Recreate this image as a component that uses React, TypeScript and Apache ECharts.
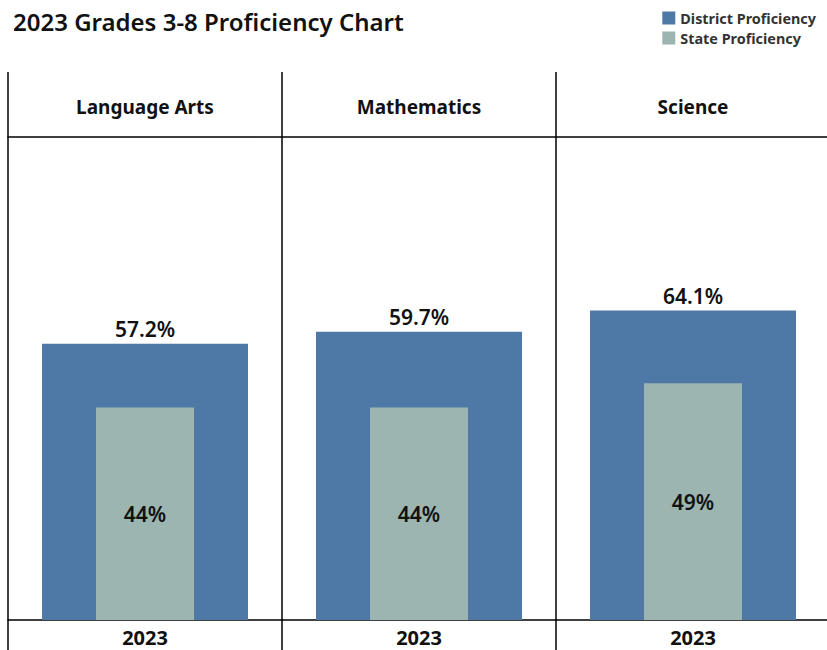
import React, { useEffect, useRef } from "react";
import * as echarts from "echarts";

const subjects = ["Language Arts", "Mathematics", "Science"];
const years = ["2023", "2023", "2023"];
const districtValues = [57.2, 59.7, 64.1];
const stateValues = [44, 44, 49];

export default function App() {
  const ref = useRef<HTMLDivElement>(null);
  useEffect(() => {
    if (!ref.current) return;
    const chart = echarts.init(ref.current, undefined, { renderer: "svg" });
    const lineStyle = { color: "#000", width: 1.5 };
    const labelFont = { fontFamily: "Noto Sans", fontWeight: 600, fontSize: 21, color: "#111" };
    chart.setOption({
      animation: false,
      backgroundColor: "#fff",
      title: {
        text: "2023 Grades 3-8 Proficiency Chart",
        left: 8,
        top: 4,
        textStyle: { fontFamily: "Noto Sans", fontWeight: 600, fontSize: 24, color: "#111" },
      },
      legend: {
        orient: "vertical",
        right: 10,
        top: 6,
        icon: "rect",
        itemWidth: 13,
        itemHeight: 13,
        itemGap: 6,
        textStyle: { fontFamily: "Noto Sans", fontWeight: "bold", fontSize: 14.4, color: "#333" },
        data: ["District Proficiency", "State Proficiency"],
      },
      grid: { left: 8, right: 1, top: 137, bottom: 30, containLabel: false },
      xAxis: [
        {
          type: "category",
          data: subjects,
          position: "bottom",
          axisLine: { show: true, lineStyle },
          axisTick: { show: true, length: 30, lineStyle },
          splitLine: { show: true, lineStyle },
          axisLabel: {
            margin: 7,
            formatter: (_v: string, i: number) => years[i],
            fontFamily: "Noto Sans",
            fontWeight: "bold",
            fontSize: 20,
            color: "#111",
          },
        },
        {
          type: "category",
          data: subjects,
          position: "top",
          axisLine: { show: true, lineStyle },
          axisTick: { show: true, length: 65, lineStyle },
          splitLine: { show: false },
          axisLabel: {
            margin: 21,
            fontFamily: "Noto Sans",
            fontWeight: "bold",
            fontSize: 19,
            color: "#111",
          },
        },
      ],
      yAxis: { type: "value", min: 0, max: 100, show: false },
      series: [
        {
          name: "District Proficiency",
          type: "bar",
          xAxisIndex: 0,
          barWidth: 206,
          data: districtValues,
          itemStyle: { color: "#4e79a7" },
          label: {
            show: true,
            position: "top",
            distance: 4,
            formatter: (p: any) => `${p.value}%`,
            ...labelFont,
          },
          z: 2,
        },
        {
          name: "State Proficiency",
          type: "bar",
          xAxisIndex: 1,
          barWidth: 98,
          data: stateValues,
          itemStyle: { color: "#9cb5b1" },
          label: {
            show: true,
            position: "inside",
            formatter: (p: any) => `${p.value}%`,
            ...labelFont,
          },
          z: 3,
        },
      ],
    });
    return () => chart.dispose();
  }, []);
  return <div ref={ref} style={{ width: 831, height: 650, position: "fixed", left: 0, top: 0 }} />;
}
